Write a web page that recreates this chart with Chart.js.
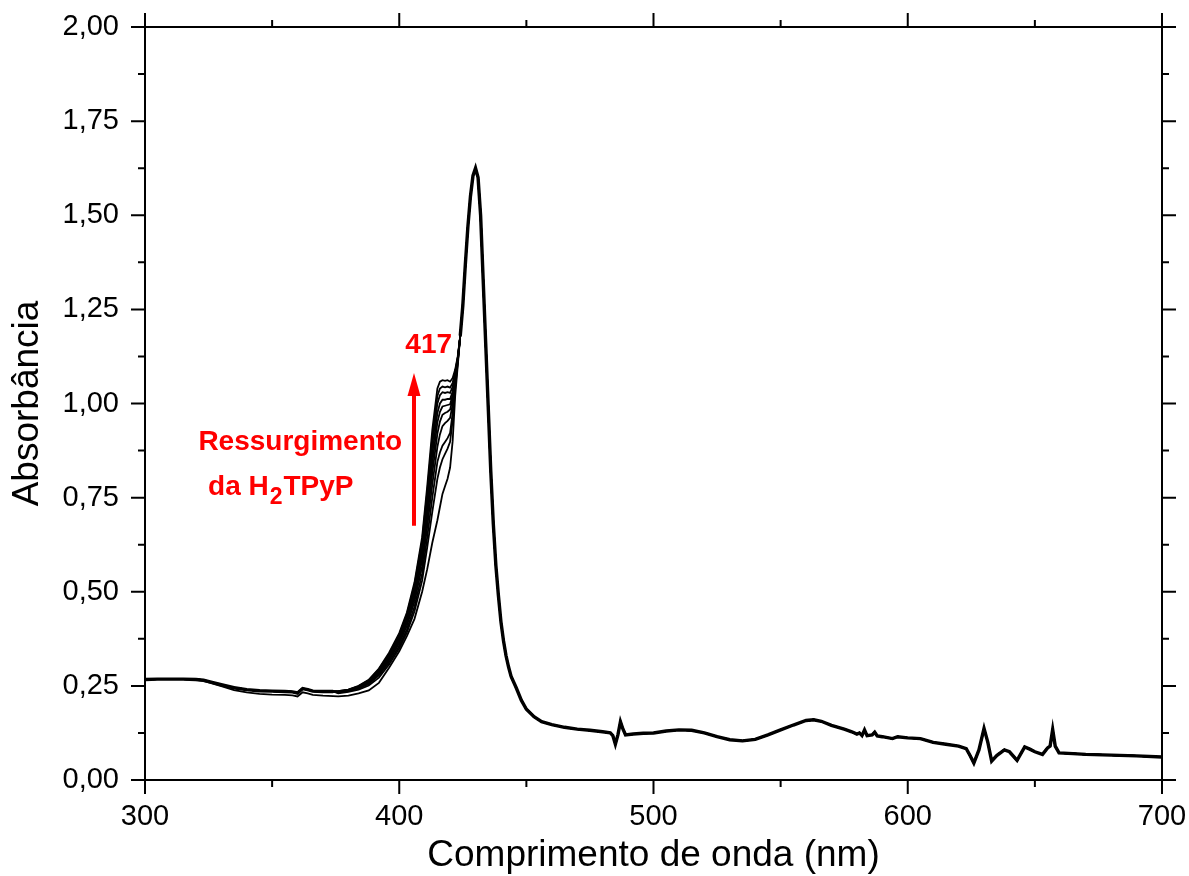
<!DOCTYPE html>
<html>
<head>
<meta charset="utf-8">
<script src="https://cdn.jsdelivr.net/npm/chart.js@4.4.1/dist/chart.umd.min.js"></script>
<style>
html,body{margin:0;padding:0;background:#fff;}
#wrap{width:1189px;height:876px;position:relative;}
</style>
</head>
<body>
<div id="wrap"><canvas id="c"></canvas></div>
<script>
// ---- data (wavelength nm, absorbance) ----
const baseWl   = [300,305,310,315,320,323,326,330,335,340,345,350,355,358,360,362,364,366,370,374];
const baseMain = [0.267,0.268,0.268,0.268,0.267,0.265,0.260,0.253,0.245,0.240,0.237,0.236,0.235,0.234,0.231,0.243,0.240,0.236,0.235,0.235];
const baseLow  = [0.267,0.268,0.268,0.268,0.266,0.263,0.257,0.249,0.239,0.233,0.229,0.227,0.226,0.225,0.222,0.233,0.230,0.226,0.224,0.223];

const riseWl = [376,380,384,388,392,396,400,403,406,409,411,413,415,416,417,418,419,420,421,422,423];
const c0 = [.236,.240,.250,.266,.296,.338,.390,.445,.525,.645,.780,.930,1.040,1.058,1.062,1.060,1.062,1.058,1.068,1.090,1.125];
const c1 = [.236,.240,.249,.265,.294,.335,.386,.440,.518,.635,.765,.910,1.020,1.040,1.045,1.043,1.045,1.042,1.055,1.085,1.122];
const c2 = [.235,.239,.248,.264,.292,.332,.382,.435,.510,.625,.750,.890,1.000,1.022,1.030,1.028,1.030,1.028,1.045,1.080,1.120];
const c3 = [.235,.239,.247,.262,.290,.329,.378,.430,.502,.612,.732,.865,.975,1.000,1.010,1.010,1.012,1.012,1.032,1.075,1.118];
const c4 = [.234,.238,.246,.261,.288,.326,.374,.424,.494,.600,.715,.840,.950,.978,.992,.994,.996,.998,1.022,1.070,1.116];
const c5 = [.234,.238,.245,.259,.285,.322,.369,.418,.485,.585,.695,.815,.920,.952,.970,.975,.978,.984,1.012,1.065,1.114];
const c6 = [.233,.237,.244,.257,.282,.318,.363,.410,.474,.568,.672,.785,.885,.918,.940,.948,.954,.962,.998,1.058,1.112];
const c7 = [.232,.236,.243,.255,.278,.313,.356,.400,.460,.548,.645,.750,.845,.870,.888,.898,.908,.922,.975,1.048,1.110];
const c8 = [.230,.234,.240,.251,.272,.307,.350,.392,.448,.530,.618,.712,.800,.830,.852,.866,.880,.898,.955,1.040,1.108];
const c9 = [.222,.224,.230,.238,.258,.298,.342,.382,.428,.500,.560,.630,.690,.725,.760,.780,.800,.830,.900,1.020,1.100];
const riseSeries = [c0,c1,c2,c3,c4,c5,c6,c7,c8,c9];

const tailWl = [424,425,426,427,428,429,430,431,432,433,434,435,436,437,438,439,440,441,442,443,444,446,448,450,453,456,460,465,470,475,480,483,484,485,486,487,488,489,492,496,500,505,510,515,520,525,530,535,540,545,550,555,560,563,566,570,575,578,580,581,582,583,584,586,587,588,590,594,596,600,605,610,615,620,623,624.5,626,628,630,631.5,633,635,638,640,643,646,648,650,653,655,656,657,658,659.5,665,670,680,690,700];
const tailAbs = [1.18,1.26,1.37,1.47,1.55,1.605,1.625,1.60,1.50,1.33,1.16,0.99,0.82,0.68,0.57,0.49,0.42,0.37,0.33,0.30,0.275,0.245,0.212,0.188,0.168,0.155,0.147,0.140,0.135,0.132,0.128,0.125,0.118,0.095,0.120,0.155,0.135,0.120,0.122,0.124,0.125,0.130,0.133,0.132,0.125,0.115,0.107,0.104,0.108,0.120,0.133,0.146,0.158,0.160,0.156,0.145,0.135,0.128,0.122,0.125,0.118,0.133,0.118,0.120,0.127,0.117,0.115,0.110,0.115,0.112,0.110,0.100,0.095,0.090,0.083,0.065,0.045,0.080,0.137,0.100,0.050,0.065,0.080,0.075,0.052,0.088,0.082,0.075,0.068,0.085,0.090,0.134,0.090,0.072,0.070,0.068,0.066,0.064,0.061];

const xTicks = [300,400,500,600,700];
const yTicks = [0,0.25,0.5,0.75,1.0,1.25,1.5,1.75,2.0];
const xTitle = 'Comprimento de onda (nm)';
const yTitle = 'Absorbância';
const noteNumber = {text:'417', x:402.4, y:1.134};
const noteLine1 = {text:'Ressurgimento', x:321.0, y:0.876};
const noteLine2 = {parts:['da H','2','TPyP'], x:324.8, y:0.757};
const arrowData = {x:405.8, from:0.675, to:1.081};

// ---- build datasets ----
const FONT = '"Liberation Sans", Arial, sans-serif';
function pts(wl, ys){ return wl.map((x,k)=>({x:x, y:ys[k]})); }
const datasets = riseSeries.map((ser,i)=>({
  data: pts(baseWl, i===9?baseLow:baseMain).concat(pts(riseWl, ser), pts(tailWl, tailAbs)),
  borderColor:'#000', borderWidth:1.8, pointRadius:0, tension:0, fill:false
}));
datasets.push({
  data: pts(baseWl, baseMain).concat([{x:375,y:null}], pts(tailWl, tailAbs)),
  borderColor:'#000', borderWidth:3.4, pointRadius:0, tension:0, fill:false, spanGaps:false
});

const framePlugin = {
  id:'frame',
  afterDraw(chart){
    const ctx = chart.ctx, a = chart.chartArea;
    const xs = chart.scales.x, ys = chart.scales.y;
    ctx.save();
    ctx.strokeStyle='#000'; ctx.lineWidth=2; ctx.lineCap='butt';
    ctx.strokeRect(a.left, a.top, a.right-a.left, a.bottom-a.top);
    const MAJ=14, MIN=7;
    ctx.beginPath();
    for (let v=300; v<=700; v+=50){
      const p = xs.getPixelForValue(v), L = (v%100===0)?MAJ:MIN;
      ctx.moveTo(p, a.bottom); ctx.lineTo(p, a.bottom+L);
      ctx.moveTo(p, a.top); ctx.lineTo(p, a.top-L);
    }
    for (let k=0; k<=16; k++){
      const v = k*0.125, p = ys.getPixelForValue(v), L = (k%2===0)?MAJ:MIN;
      ctx.moveTo(a.left, p); ctx.lineTo(a.left-L, p);
      ctx.moveTo(a.right, p); ctx.lineTo(a.right+L, p);
    }
    ctx.stroke();

    // annotations
    ctx.fillStyle='#ff0000'; ctx.strokeStyle='#ff0000';
    ctx.textBaseline='alphabetic'; ctx.textAlign='left';
    ctx.font='bold 28px '+FONT;
    ctx.fillText(noteNumber.text, xs.getPixelForValue(noteNumber.x), ys.getPixelForValue(noteNumber.y));
    ctx.fillText(noteLine1.text, xs.getPixelForValue(noteLine1.x), ys.getPixelForValue(noteLine1.y));
    let px = xs.getPixelForValue(noteLine2.x), py = ys.getPixelForValue(noteLine2.y);
    ctx.fillText(noteLine2.parts[0], px, py); px += ctx.measureText(noteLine2.parts[0]).width + 1;
    ctx.font='bold 23px '+FONT;
    ctx.fillText(noteLine2.parts[1], px, py+9); px += ctx.measureText(noteLine2.parts[1]).width + 1;
    ctx.font='bold 28px '+FONT;
    ctx.fillText(noteLine2.parts[2], px, py);
    // arrow
    const ax = xs.getPixelForValue(arrowData.x), y0 = ys.getPixelForValue(arrowData.from), y1 = ys.getPixelForValue(arrowData.to);
    ctx.lineWidth=4;
    ctx.beginPath(); ctx.moveTo(ax, y0); ctx.lineTo(ax, y1+18); ctx.stroke();
    ctx.beginPath(); ctx.moveTo(ax, y1); ctx.lineTo(ax-6.5, y1+23); ctx.lineTo(ax+6.5, y1+23); ctx.closePath(); ctx.fill();
    ctx.restore();
  }
};

new Chart(document.getElementById('c'), {
  type:'line',
  data:{datasets},
  options:{
    responsive:true, maintainAspectRatio:false, animation:false,
    layout:{padding:{top:27, right:27, left:0, bottom:0}},
    plugins:{legend:{display:false}, tooltip:{enabled:false}},
    scales:{
      x:{type:'linear', min:300, max:700,
        afterBuildTicks:(s)=>{ s.ticks = xTicks.map(v=>({value:v})); },
        afterFit:(s)=>{ s.height = 96; s.paddingLeft = 0; s.paddingRight = 0; },
        grid:{display:false, drawTicks:false}, border:{display:false},
        ticks:{color:'#000', font:{family:FONT, size:29}, padding:20, maxRotation:0},
        title:{display:true, text:xTitle, color:'#000', font:{family:FONT, size:37}, padding:{top:0,bottom:-2}}
      },
      y:{type:'linear', min:0, max:2,
        afterBuildTicks:(s)=>{ s.ticks = yTicks.map(v=>({value:v})); },
        afterFit:(s)=>{ s.width = 145; s.paddingTop = 0; s.paddingBottom = 0; },
        grid:{display:false, drawTicks:false}, border:{display:false},
        ticks:{color:'#000', font:{family:FONT, size:29}, padding:26, callback:(v)=>Number(v).toFixed(2).replace('.',',')},
        title:{display:true, text:yTitle, color:'#000', font:{family:FONT, size:37}, padding:{top:6,bottom:0}}
      }
    }
  },
  plugins:[framePlugin]
});
</script>
</body>
</html>
